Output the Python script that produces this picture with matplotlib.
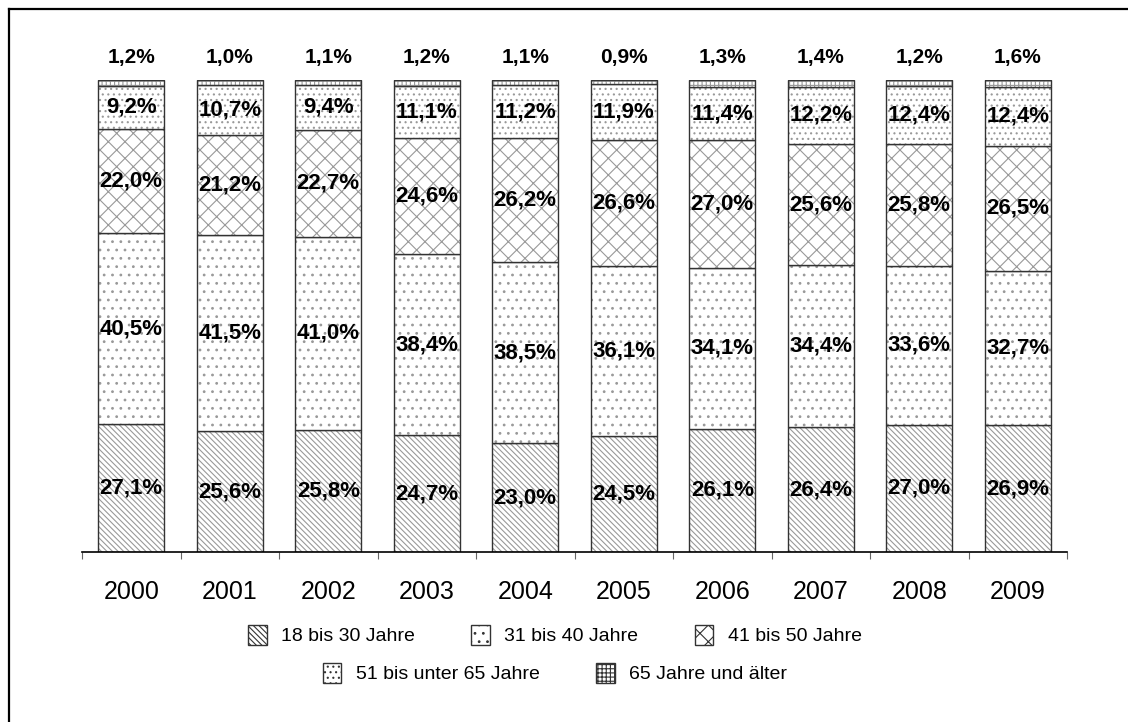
import numpy as np
import matplotlib
matplotlib.use("Agg")
import matplotlib.pyplot as plt
from matplotlib.patches import Patch
from matplotlib.lines import Line2D

plt.rcParams['font.family'] = ['Liberation Sans', 'DejaVu Sans']
plt.rcParams['hatch.linewidth'] = 0.8

years = ['2000', '2001', '2002', '2003', '2004', '2005', '2006', '2007', '2008', '2009']
groups = ['18 bis 30 Jahre', '31 bis 40 Jahre', '41 bis 50 Jahre',
          '51 bis unter 65 Jahre', '65 Jahre und älter']

# Anteile in %, von unten nach oben
age_18_30 = [27.1, 25.6, 25.8, 24.7, 23.0, 24.5, 26.1, 26.4, 27.0, 26.9]
age_31_40 = [40.5, 41.5, 41.0, 38.4, 38.5, 36.1, 34.1, 34.4, 33.6, 32.7]
age_41_50 = [22.0, 21.2, 22.7, 24.6, 26.2, 26.6, 27.0, 25.6, 25.8, 26.5]
age_51_65 = [9.2, 10.7, 9.4, 11.1, 11.2, 11.9, 11.4, 12.2, 12.4, 12.4]
age_65_up = [1.2, 1.0, 1.1, 1.2, 1.1, 0.9, 1.3, 1.4, 1.2, 1.6]

series = [age_18_30, age_31_40, age_41_50, age_51_65, age_65_up]
hatches = ['\\' * 6, '..', 'xx', '...', '++++']
hcol = '#999999'

fig = plt.figure(figsize=(11.28, 7.22), dpi=100)
ax = fig.add_axes([82 / 1128, 1 - 552 / 722, (1067 - 82) / 1128, (552 - 80) / 722])

x = np.arange(len(years))
w = 0.67
bottom = np.zeros(len(years))
for vals, h in zip(series, hatches):
    vals = np.array(vals)
    # hatch layer
    ax.bar(x, vals, w, bottom=bottom, color='white', hatch=h,
           edgecolor=hcol, linewidth=0)
    # outline
    ax.bar(x, vals, w, bottom=bottom, color='none',
           edgecolor='#333333', linewidth=1.0)
    bottom += vals

# Beschriftung der Segmente, oberstes Segment ueber dem Balken
bottom = np.zeros(len(years))
for k, vals in enumerate(series):
    for i, v in enumerate(vals):
        lab = f"{v:.1f}%".replace('.', ',')
        if k < 4:
            ax.text(x[i], bottom[i] + v / 2, lab, ha='center', va='center',
                    fontsize=16, fontweight='bold')
        else:
            ax.annotate(lab, xy=(x[i], 100), xytext=(0, 16),
                        textcoords='offset points', ha='center', va='center',
                        fontsize=15, fontweight='bold', annotation_clip=False)
    bottom += np.array(vals)

ax.set_xlim(-0.5, len(years) - 0.5)
ax.set_ylim(0, 100)
ax.set_yticks([])
for s in ['left', 'right', 'top']:
    ax.spines[s].set_visible(False)
ax.spines['bottom'].set_linewidth(1.2)
ax.set_xticks(x)
ax.set_xticklabels(years, fontsize=18)
ax.tick_params(axis='x', which='major', length=0, pad=20)
ax.set_xticks(np.arange(-0.5, len(years)), minor=True)
ax.tick_params(axis='x', which='minor', length=5, width=0.8, color='#666666')

handles = [Patch(facecolor='white', edgecolor='#333333', hatch=h, label=g)
           for g, h in zip(groups, hatches)]
kw = dict(frameon=False, fontsize=14, handlelength=0.95, handleheight=1.2,
          handletextpad=0.75, columnspacing=2.9, borderpad=0)
leg1 = fig.legend(handles=handles[:3], ncol=3, loc='center',
                  bbox_to_anchor=(555 / 1128, 1 - 635 / 722), **kw)
leg2 = fig.legend(handles=handles[3:], ncol=2, loc='center',
                  bbox_to_anchor=(555 / 1128, 1 - 673 / 722), **kw)

# Rahmen (nur oben und links sichtbar)
fig.add_artist(Line2D([9 / 1128, 1.01], [1 - 9 / 722, 1 - 9 / 722],
                      transform=fig.transFigure, color='black', lw=1.6))
fig.add_artist(Line2D([9 / 1128, 9 / 1128], [1 - 9 / 722, -0.01],
                      transform=fig.transFigure, color='black', lw=1.6))

fig.savefig('out.png', dpi=100)
